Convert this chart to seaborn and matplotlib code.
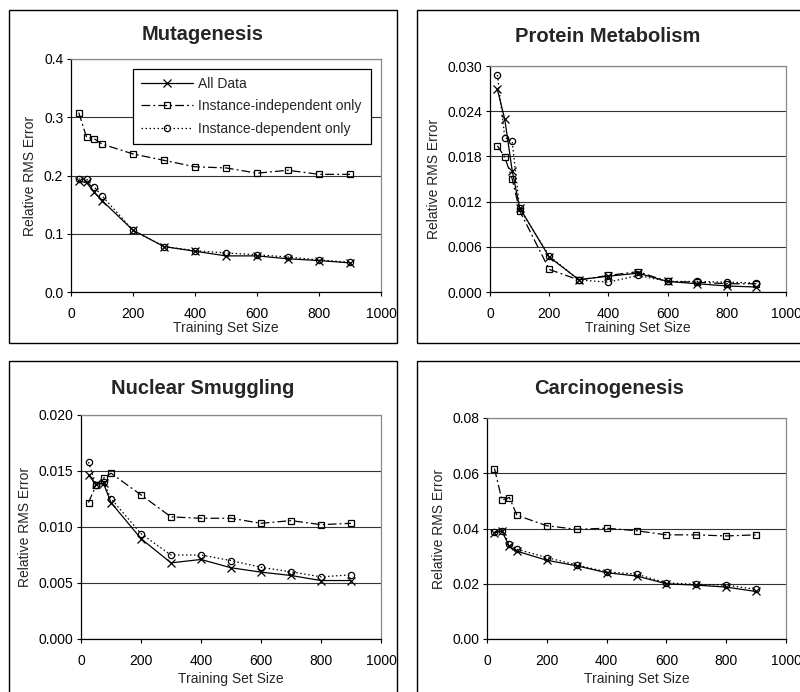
import matplotlib
matplotlib.use("Agg")
import matplotlib.pyplot as plt
from matplotlib.patches import Rectangle
from matplotlib.ticker import FormatStrFormatter
import pandas as pd
import seaborn as sns
import numpy as np

sizes = [25, 50, 75, 100, 200, 300, 400, 500, 600, 700, 800, 900]

# Mutagenesis
mut_all = [0.190, 0.188, 0.171, 0.157, 0.106, 0.078, 0.070, 0.062, 0.062, 0.057, 0.054, 0.050]
mut_indep = [0.308, 0.266, 0.263, 0.254, 0.237, 0.226, 0.215, 0.213, 0.204, 0.209, 0.202, 0.202]
mut_dep = [0.194, 0.194, 0.180, 0.165, 0.106, 0.078, 0.071, 0.067, 0.064, 0.060, 0.055, 0.051]

# Protein Metabolism
pro_all = [0.0269, 0.0229, 0.0161, 0.0112, 0.00465, 0.00164, 0.0021, 0.0025, 0.0014, 0.0011, 0.0008, 0.00066]
pro_indep = [0.0194, 0.0179, 0.0150, 0.0108, 0.0030, 0.0016, 0.0022, 0.0027, 0.0014, 0.0013, 0.0011, 0.0011]
pro_dep = [0.0288, 0.0205, 0.0200, 0.0111, 0.0048, 0.0016, 0.0013, 0.0022, 0.0014, 0.0014, 0.0013, 0.0012]

# Nuclear Smuggling
nuc_all = [0.01463, 0.01382, 0.0139, 0.01218, 0.00896, 0.0068, 0.0071, 0.00636, 0.00597, 0.00567, 0.00522, 0.00522]
nuc_indep = [0.01218, 0.01373, 0.01436, 0.0148, 0.01287, 0.0109, 0.01078, 0.01078, 0.01033, 0.01057, 0.01021, 0.01033]
nuc_dep = [0.0158, 0.01376, 0.0140, 0.01254, 0.0094, 0.0075, 0.0075, 0.0070, 0.0064, 0.0060, 0.00555, 0.00573]

# Carcinogenesis
car_all = [0.0385, 0.0390, 0.0335, 0.0318, 0.0285, 0.0265, 0.0240, 0.0228, 0.0200, 0.0195, 0.0188, 0.0172]
car_indep = [0.0617, 0.0503, 0.0512, 0.0448, 0.0410, 0.0397, 0.0401, 0.0392, 0.0377, 0.0377, 0.0373, 0.0377]
car_dep = [0.0388, 0.0392, 0.0345, 0.0325, 0.0295, 0.0268, 0.0243, 0.0235, 0.0203, 0.0198, 0.0195, 0.0180]

series_names = ["All Data", "Instance-independent only", "Instance-dependent only"]

sns.set_style("ticks")
plt.rcParams['font.family'] = ['Liberation Sans', 'DejaVu Sans']

fig = plt.figure(figsize=(8, 6.92), dpi=100)

W, H = 800.0, 692.0

def fx(px):
    return px / W

def fy(py):
    return 1 - py / H

panels = [
    dict(title="Mutagenesis", data=(mut_all, mut_indep, mut_dep),
         box=(71, 381, 59, 292), frame=(9, 397, 10, 343), title_x=203,
         yticks=np.arange(0, 0.41, 0.1), fmt="%.1f", ylim=0.4,
         title_y=35, ylabel_x=37, xlabel_y=321, legend=True),
    dict(title="Protein Metabolism", data=(pro_all, pro_indep, pro_dep),
         box=(490, 786, 66, 292), frame=(417, 806, 10, 343), title_x=608,
         yticks=np.arange(0, 0.0301, 0.006), fmt="%.3f", ylim=0.030,
         title_y=36, ylabel_x=441, xlabel_y=321, legend=False),
    dict(title="Nuclear Smuggling", data=(nuc_all, nuc_indep, nuc_dep),
         box=(81, 381, 415, 639), frame=(9, 397, 361, 700), title_x=203,
         yticks=np.arange(0, 0.0201, 0.005), fmt="%.3f", ylim=0.020,
         title_y=388, ylabel_x=32, xlabel_y=672, legend=False),
    dict(title="Carcinogenesis", data=(car_all, car_indep, car_dep),
         box=(487, 786, 418, 639), frame=(417, 806, 361, 700), title_x=609,
         yticks=np.arange(0, 0.0801, 0.02), fmt="%.2f", ylim=0.08,
         title_y=388, ylabel_x=446, xlabel_y=672, legend=False),
]

styles = [
    dict(marker="x", linestyle="-", markersize=5.5),
    dict(marker="s", linestyle=(0, (7, 2.5, 1.5, 2.5)), markersize=4.5),
    dict(marker="o", linestyle=(0, (1.2, 2)), markersize=4.5),
]

for p in panels:
    l, r, t, b = p["box"]
    ax = fig.add_axes([fx(l), fy(b), fx(r) - fx(l), fy(t) - fy(b)])
    for name, vals, st in zip(series_names, p["data"], styles):
        df = pd.DataFrame({"size": sizes, "err": vals})
        sns.lineplot(data=df, x="size", y="err", ax=ax, color="black",
                     linewidth=0.9, marker=st["marker"], linestyle=st["linestyle"],
                     markersize=st["markersize"], markerfacecolor="none",
                     markeredgecolor="black", markeredgewidth=0.9, label=name)
    ax.set_xlim(0, 1000)
    ax.set_ylim(0, p["ylim"])
    ax.set_xticks(range(0, 1001, 200))
    ax.set_yticks(p["yticks"])
    ax.yaxis.set_major_formatter(FormatStrFormatter(p["fmt"]))
    ax.tick_params(labelsize=10, length=3, width=0.8, colors="black", pad=2.5)
    ax.tick_params(axis="x", pad=7.5)
    ax.grid(axis="y", color="#333333", linewidth=0.8)
    ax.set_axisbelow(True)
    for s in ["top", "right"]:
        ax.spines[s].set_color("#888888")
        ax.spines[s].set_linewidth(0.9)
    for s in ["left", "bottom"]:
        ax.spines[s].set_color("black")
        ax.spines[s].set_linewidth(0.9)
    ax.set_xlabel("Training Set Size", fontsize=10)
    ax.set_ylabel("Relative RMS Error", fontsize=10)
    ax.xaxis.set_label_coords(fx((l + r) / 2), fy(p["xlabel_y"]), transform=fig.transFigure)
    ax.yaxis.set_label_coords(fx(p["ylabel_x"]), fy((t + b) / 2), transform=fig.transFigure)
    if p["legend"]:
        ax.legend(loc="upper left", bbox_to_anchor=(0.2, 0.639, 0.768, 0.318),
                  mode="expand", frameon=True, fancybox=False, edgecolor="black",
                  framealpha=1, fontsize=10, handlelength=3.75, borderpad=0.55,
                  labelspacing=0.62, handletextpad=0.35, borderaxespad=0)
        ax.get_legend().get_frame().set_linewidth(0.9)
    else:
        leg = ax.get_legend()
        if leg is not None:
            leg.remove()
    fl, fr, ft, fb = p["frame"]
    fig.add_artist(Rectangle((fx(fl), fy(fb)), fx(fr) - fx(fl), fy(ft) - fy(fb),
                             transform=fig.transFigure, fill=False,
                             edgecolor="black", linewidth=1.0))
    fig.text(fx(p["title_x"]), fy(p["title_y"]), p["title"], ha="center", va="center",
             fontsize=14.5, fontweight="bold")

fig.savefig("out.png", dpi=100)
